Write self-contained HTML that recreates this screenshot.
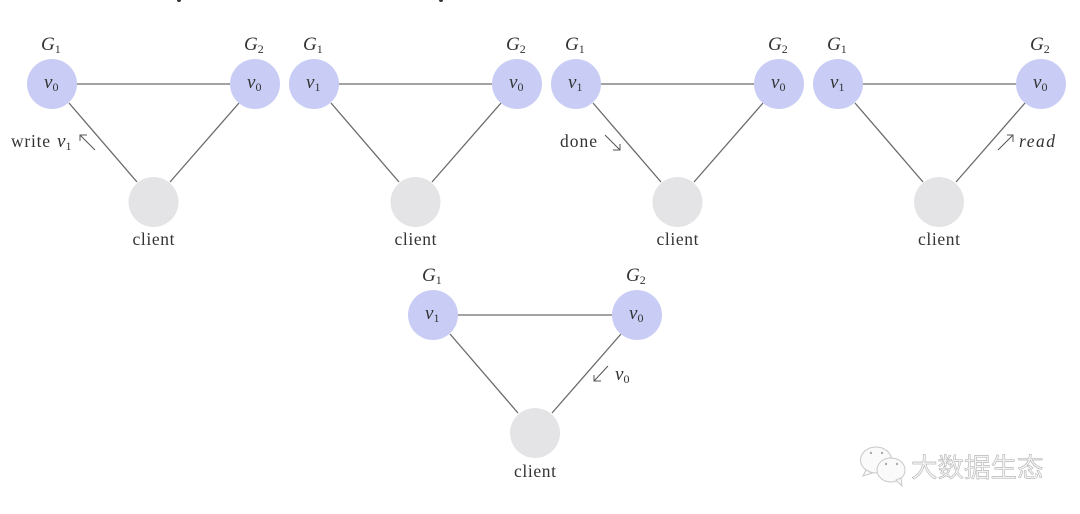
<!DOCTYPE html>
<html>
<head>
<meta charset="utf-8">
<style>
html,body{margin:0;padding:0;background:#fff}
svg{display:block}
text{font-family:"Liberation Serif","Noto Serif CJK SC",serif;fill:#333}
.l{stroke:#6a6a6a;stroke-width:1.3;fill:none}
.a{stroke:#555;stroke-width:1;fill:none}
.n{fill:#c9cdf5}
.c{fill:#e4e4e6}
.g{font-size:19px;font-style:italic}
.v{font-size:19px;font-style:italic}
.s{font-size:12px;font-style:normal}
.t{font-size:17.5px}
.i{font-style:italic}
.w{font-family:"Noto Sans CJK SC","Liberation Sans",sans-serif;font-size:26.5px;fill:#f2f2f2;stroke:#9a9a9a;stroke-width:.4}
</style>
</head>
<body>
<svg width="1080" height="514" viewBox="0 0 1080 514" xmlns="http://www.w3.org/2000/svg">
<rect width="1080" height="514" fill="#fff"/>
<circle cx="179" cy="0" r="2" fill="#333"/>
<circle cx="441" cy="0" r="2" fill="#333"/>

<!-- Panel 1 -->
<path class="l" d="M77 84H230M69 103L137 182M239 103L170 182"/>
<circle class="n" cx="52" cy="84" r="25"/><circle class="n" cx="255" cy="84" r="25"/><circle class="c" cx="153.500" cy="202" r="25"/>
<text class="g" x="41" y="50">G<tspan class="s" dy="3">1</tspan></text>
<text class="g" x="244" y="50">G<tspan class="s" dy="3">2</tspan></text>
<text class="v" x="44" y="88">v<tspan class="s" dy="3">0</tspan></text>
<text class="v" x="247" y="88">v<tspan class="s" dy="3">0</tspan></text>
<text class="t" x="132.500" y="245" textLength="42">client</text>
<text class="t" x="11" y="147" textLength="39">write</text>
<text class="v" x="57" y="147">v<tspan class="s" dy="3">1</tspan></text>
<path class="a" d="M95 150L80 135M80 141L80 135L87 135"/>

<!-- Panel 2 -->
<path class="l" d="M339 84H492M331 103L399 182M501 103L432 182"/>
<circle class="n" cx="314" cy="84" r="25"/><circle class="n" cx="517" cy="84" r="25"/><circle class="c" cx="415.500" cy="202" r="25"/>
<text class="g" x="303" y="50">G<tspan class="s" dy="3">1</tspan></text>
<text class="g" x="506" y="50">G<tspan class="s" dy="3">2</tspan></text>
<text class="v" x="306" y="88">v<tspan class="s" dy="3">1</tspan></text>
<text class="v" x="509" y="88">v<tspan class="s" dy="3">0</tspan></text>
<text class="t" x="394.500" y="245" textLength="42">client</text>

<!-- Panel 3 -->
<path class="l" d="M601 84H754M593 103L661 182M763 103L694 182"/>
<circle class="n" cx="576" cy="84" r="25"/><circle class="n" cx="779" cy="84" r="25"/><circle class="c" cx="677.500" cy="202" r="25"/>
<text class="g" x="565" y="50">G<tspan class="s" dy="3">1</tspan></text>
<text class="g" x="768" y="50">G<tspan class="s" dy="3">2</tspan></text>
<text class="v" x="568" y="88">v<tspan class="s" dy="3">1</tspan></text>
<text class="v" x="771" y="88">v<tspan class="s" dy="3">0</tspan></text>
<text class="t" x="656.500" y="245" textLength="42">client</text>
<text class="t" x="560" y="147" textLength="37">done</text>
<path class="a" d="M605 135L620 150M620 144L620 150L613 150"/>

<!-- Panel 4 -->
<path class="l" d="M863 84H1016M855 103L923 182M1025 103L956 182"/>
<circle class="n" cx="838" cy="84" r="25"/><circle class="n" cx="1041" cy="84" r="25"/><circle class="c" cx="939" cy="202" r="25"/>
<text class="g" x="827" y="50">G<tspan class="s" dy="3">1</tspan></text>
<text class="g" x="1030" y="50">G<tspan class="s" dy="3">2</tspan></text>
<text class="v" x="830" y="88">v<tspan class="s" dy="3">1</tspan></text>
<text class="v" x="1033" y="88">v<tspan class="s" dy="3">0</tspan></text>
<text class="t" x="918" y="245" textLength="42">client</text>
<path class="a" d="M998 150L1013 135M1007 135L1013 135L1013 142"/>
<text class="t i" x="1019" y="147" textLength="36">read</text>

<!-- Panel 5 -->
<path class="l" d="M458 315H612M450 334L518 413M621 334L552 413"/>
<circle class="n" cx="433" cy="315" r="25"/><circle class="n" cx="637" cy="315" r="25"/><circle class="c" cx="535" cy="433" r="25"/>
<text class="g" x="422" y="281">G<tspan class="s" dy="3">1</tspan></text>
<text class="g" x="626" y="281">G<tspan class="s" dy="3">2</tspan></text>
<text class="v" x="425" y="319">v<tspan class="s" dy="3">1</tspan></text>
<text class="v" x="629" y="319">v<tspan class="s" dy="3">0</tspan></text>
<text class="t" x="514" y="477" textLength="42">client</text>
<path class="a" d="M608 366L594 381M594 375L594 381L601 381"/>
<text class="v" x="615" y="380">v<tspan class="s" dy="3">0</tspan></text>

<!-- Watermark -->
<g fill="#fafafa" stroke="#c8c8c8" stroke-width="1">
<ellipse cx="876" cy="460" rx="15.500" ry="13"/>
<path d="M866 470l-3 6 9-3z"/>
<ellipse cx="891" cy="470" rx="14" ry="12"/>
<path d="M896 480l6 6-1-8z"/>
</g>
<g fill="#aaa"><circle cx="871" cy="453" r="1.200"/><circle cx="882" cy="453" r="1.200"/><circle cx="886" cy="464" r="1.200"/><circle cx="897" cy="464" r="1.200"/></g>
<text class="w" x="911" y="477">大数据生态</text>
</svg>
</body>
</html>
